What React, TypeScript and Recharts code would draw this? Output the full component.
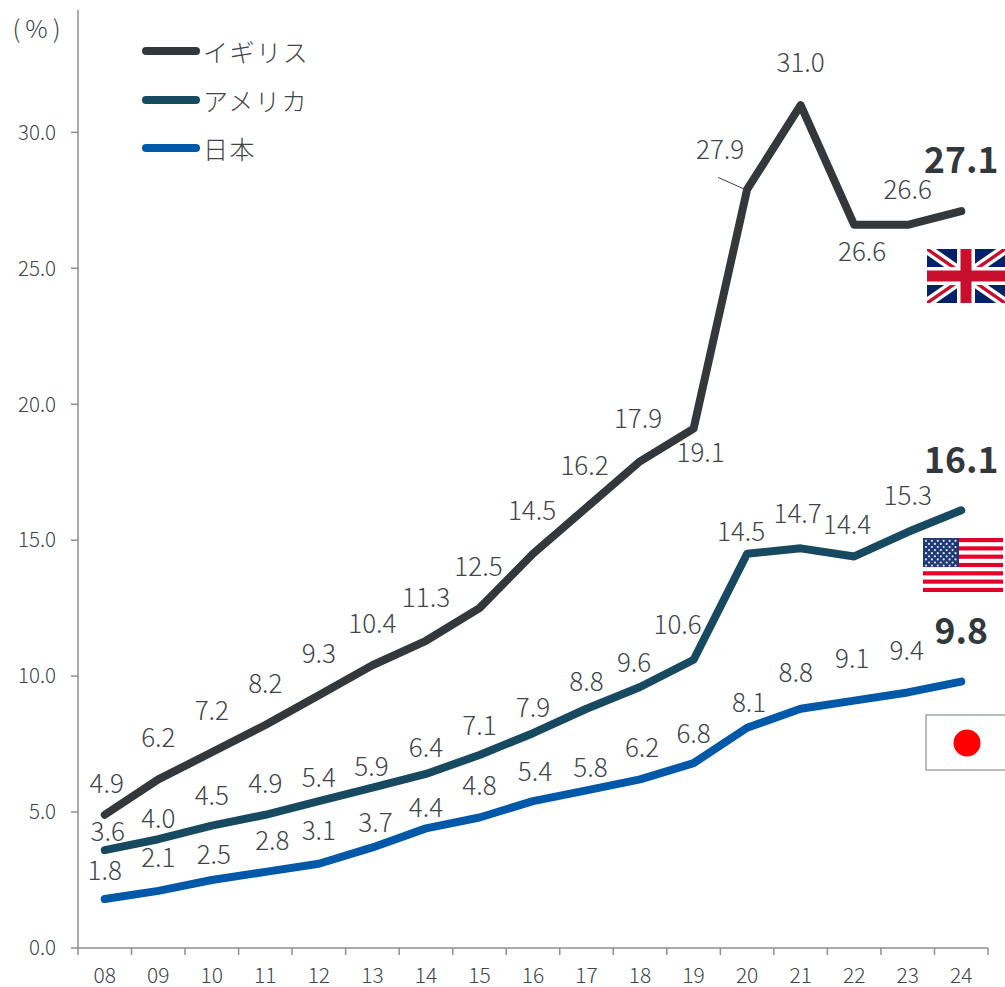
import React from "react";
import {
  Customized,
  LabelList,
  Legend,
  Line,
  LineChart,
  XAxis,
  YAxis,
} from "recharts";

const years = ["08", "09", "10", "11", "12", "13", "14", "15", "16", "17", "18", "19", "20", "21", "22", "23", "24"];
const ukValues = [4.9, 6.2, 7.2, 8.2, 9.3, 10.4, 11.3, 12.5, 14.5, 16.2, 17.9, 19.1, 27.9, 31.0, 26.6, 26.6, 27.1];
const usValues = [3.6, 4.0, 4.5, 4.9, 5.4, 5.9, 6.4, 7.1, 7.9, 8.8, 9.6, 10.6, 14.5, 14.7, 14.4, 15.3, 16.1];
const jpValues = [1.8, 2.1, 2.5, 2.8, 3.1, 3.7, 4.4, 4.8, 5.4, 5.8, 6.2, 6.8, 8.1, 8.8, 9.1, 9.4, 9.8];
const yTicks = [0, 5, 10, 15, 20, 25, 30];

const rows = years.map((year, i) => ({
  year,
  uk: ukValues[i],
  us: usValues[i],
  jp: jpValues[i],
}));

// label centre relative to its point, [dx, dy]
const ukOffsets = [[2, -33], [0, -44], [0, -44], [0, -44], [0, -44], [0, -44], [0, -45], [-1, -44], [-1, -45], [-2, -44], [-2, -45], [7, 22], [-27, -42], [0, -45], [8, 25], [0, -37], [0, -54]];
const usOffsets = [[3, -21], [0, -23], [0, -32], [0, -33], [0, -26], [-1, -23], [0, -28], [0, -31], [0, -28], [0, -29], [-6, -26], [-16, -37], [-6, -24], [-3, -37], [-7, -34], [0, -39], [0, -53]];
const jpOffsets = [[0, -31], [0, -35], [2, -28], [7, -33], [0, -35], [3, -27], [0, -23], [0, -34], [2, -32], [4, -25], [2, -34], [0, -32], [2, -27], [-5, -38], [-2, -44], [-1, -44], [0, -53]];

const FONT = '"Noto Sans CJK JP", "Noto Sans", sans-serif';
const TEXT = "#404548";
const AXIS = "#8f8f8f";
const BAND = 910 / years.length;
const LAST = years.length - 1;

function makeLabel(offsets: number[][], leaderAt = -1) {
  return (props: any) => {
    const { x, y, value, index } = props;
    const [dx, dy] = offsets[index];
    const isLast = index === LAST;
    return (
      <g>
        {index === leaderAt && (
          <line x1={x - 29} y1={y - 12} x2={x - 2} y2={y} stroke="#404040" strokeWidth={1} />
        )}
        <text
          x={x + dx}
          y={y + dy}
          textAnchor="middle"
          dominantBaseline="central"
          fontFamily={FONT}
          fontSize={isLast ? 35.5 : 26}
          fontWeight={isLast ? 700 : 300}
          fill={isLast ? "#33383c" : TEXT}
        >
          {Number(value).toFixed(1)}
        </text>
      </g>
    );
  };
}

// year label under the band, tick marks on the band edges
function YearTick({ x, y, payload, index }: any) {
  return (
    <g>
      <line x1={x - BAND / 2} y1={y} x2={x - BAND / 2} y2={y + 7} stroke={AXIS} strokeWidth={1.5} />
      {index === LAST && (
        <line x1={x + BAND / 2} y1={y} x2={x + BAND / 2} y2={y + 7} stroke={AXIS} strokeWidth={1.5} />
      )}
      <text x={x} y={y + 26} textAnchor="middle" dominantBaseline="central" fontFamily={FONT} fontSize={21} fontWeight={300} fill={TEXT}>
        {payload.value}
      </text>
    </g>
  );
}

function LegendRows({ payload }: any) {
  return (
    <div style={{ fontFamily: FONT, fontWeight: 300, fontSize: 25, color: TEXT }}>
      {(payload || []).map((entry: any) => (
        <div key={entry.value} style={{ display: "flex", alignItems: "center", height: 48.5 }}>
          <span style={{ width: 58, height: 8, borderRadius: 4, background: entry.color, marginRight: 3 }} />
          <span style={{ letterSpacing: 1.6 }}>{entry.value}</span>
        </div>
      ))}
    </div>
  );
}

function UkFlag() {
  return (
    <svg x={927} y={249} width={78} height={54} viewBox="0 0 78 54">
      <rect width={78} height={54} fill="#012169" />
      <path d="M0 0L78 54M78 0L0 54" stroke="#fff" strokeWidth={10} />
      <path d="M0 0L78 54M78 0L0 54" stroke="#c8102e" strokeWidth={3.4} />
      <path d="M39 0V54M0 27H78" stroke="#fff" strokeWidth={18} />
      <path d="M39 0V54M0 27H78" stroke="#c8102e" strokeWidth={11} />
    </svg>
  );
}

function UsFlag() {
  const stripes = Array.from({ length: 7 }, (_, i) => i * 2);
  const stars: React.ReactNode[] = [];
  for (let r = 0; r < 9; r++) {
    const count = r % 2 === 0 ? 6 : 5;
    for (let c = 0; c < count; c++) {
      stars.push(
        <circle key={`${r}-${c}`} cx={3 + c * 5.9 + (r % 2 ? 3 : 0)} cy={2.8 + r * 3.1} r={1.1} fill="#dfe3ee" />
      );
    }
  }
  const h = 54 / 13;
  return (
    <svg x={923} y={538} width={80} height={54} viewBox="0 0 80 54">
      <rect width={80} height={54} fill="#fff" />
      {stripes.map((i) => (
        <rect key={i} y={i * h} width={80} height={h} fill="#e4002b" />
      ))}
      <rect width={36} height={29} fill="#1f3a75" />
      {stars}
    </svg>
  );
}

function JpFlag() {
  return (
    <g>
      <rect x={926} y={715} width={90} height={55} fill="#fff" stroke="#a3a6a8" strokeWidth={1.5} />
      <circle cx={967} cy={743} r={13.5} fill="#ff0000" />
    </g>
  );
}

function Decorations() {
  return (
    <g>
      <text x={39} y={27} textAnchor="middle" dominantBaseline="central" fontFamily={FONT} fontSize={25} fontWeight={300} letterSpacing={5} fill={TEXT}>
        (%)
      </text>
      <UkFlag />
      <UsFlag />
      <JpFlag />
    </g>
  );
}

export default function App() {
  return (
    <div style={{ position: "absolute", left: 0, top: 0, width: 1005, height: 987, overflow: "hidden", background: "#fff" }}>
      <LineChart
        width={1005}
        height={987}
        data={rows}
        margin={{ top: 10, right: 17, bottom: 0, left: 0 }}
      >
        <XAxis
          dataKey="year"
          scale="band"
          interval={0}
          stroke={AXIS}
          strokeWidth={1.5}
          height={39}
          tickLine={false}
          tickSize={0}
          tickMargin={0}
          tick={<YearTick />}
        />
        <YAxis
          width={78}
          domain={[0, 34.5]}
          ticks={yTicks}
          interval={0}
          stroke={AXIS}
          strokeWidth={1.5}
          tickSize={7}
          tickMargin={15}
          tickFormatter={(v: number) => v.toFixed(1)}
          tick={{ fontFamily: FONT, fontSize: 20.5, fontWeight: 300, fill: TEXT }}
        />
        <Legend
          layout="vertical"
          align="center"
          verticalAlign="middle"
          itemSorter={null}
          wrapperStyle={{ left: 142, top: 27, width: 220, bottom: "auto" }}
          content={<LegendRows />}
        />
        <Line name="イギリス" dataKey="uk" stroke="#33383c" strokeWidth={8} strokeLinecap="round" strokeLinejoin="round" dot={false} isAnimationActive={false}>
          <LabelList dataKey="uk" content={makeLabel(ukOffsets, 12)} />
        </Line>
        <Line name="アメリカ" dataKey="us" stroke="#174a60" strokeWidth={8} strokeLinecap="round" strokeLinejoin="round" dot={false} isAnimationActive={false}>
          <LabelList dataKey="us" content={makeLabel(usOffsets)} />
        </Line>
        <Line name="日本" dataKey="jp" stroke="#0058a8" strokeWidth={8} strokeLinecap="round" strokeLinejoin="round" dot={false} isAnimationActive={false}>
          <LabelList dataKey="jp" content={makeLabel(jpOffsets)} />
        </Line>
        <Customized component={<Decorations />} />
      </LineChart>
    </div>
  );
}
